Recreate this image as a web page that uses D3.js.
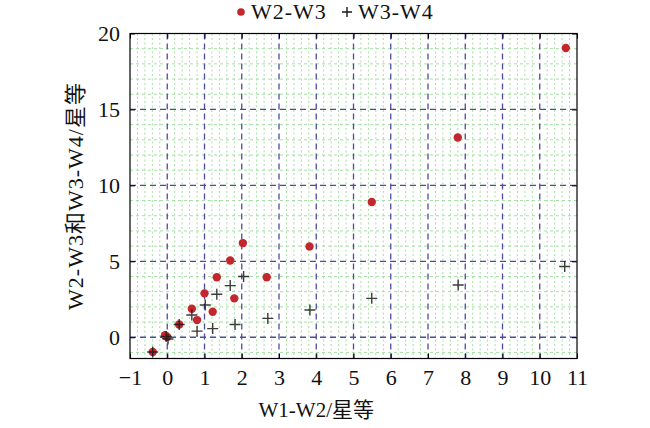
<!DOCTYPE html>
<html>
<head>
<meta charset="utf-8">
<script src="https://cdn.jsdelivr.net/npm/d3@7"></script>
<style>
	body { margin: 0; background: #fff; }
	svg { display: block; }
	.frame { fill: none; stroke: #000; stroke-width: 1.2px; }
	.minor { stroke: #a6dea6; stroke-width: 1px; fill: none; }
	.major { stroke: #4b4d9c; stroke-width: 1.3px; stroke-dasharray: 6 4; fill: none; }
	.dot { fill: #c4262e; }
	.cross { stroke: #1a1a1a; stroke-width: 1.4px; }
</style>
</head>
<body>
<svg id="chart" width="650" height="428"></svg>
<script>
// W2-W3 vs W1-W2
const w2w3X = [-0.39, -0.06, 0.0, 0.32, 0.80, 0.66, 1.22, 1.00, 1.80, 1.33, 2.67, 1.69, 2.03, 3.82, 5.49, 7.80, 10.70];
const w2w3Y = [-0.97, 0.13, 0.02, 0.84, 1.13, 1.88, 1.68, 2.89, 2.56, 3.95, 3.95, 5.05, 6.20, 5.98, 8.90, 13.15, 19.05];
// W3-W4 vs W1-W2
const w3w4X = [-0.39, -0.03, 0.02, 0.32, 0.66, 0.80, 1.02, 1.22, 1.33, 1.69, 1.82, 2.05, 2.70, 3.83, 5.49, 7.81, 10.67];
const w3w4Y = [-0.97, 0.05, -0.12, 0.84, 1.46, 0.40, 2.12, 0.57, 2.83, 3.40, 0.84, 4.00, 1.24, 1.79, 2.56, 3.44, 4.66];

const xTicks = [-1, 0, 1, 2, 3, 4, 5, 6, 7, 8, 9, 10, 11];
const yTicks = [0, 5, 10, 15, 20];
const xDomain = [-1, 11];
const yDomain = [-1.4, 20];

const serif = '"Liberation Serif", serif';
const titleFont = '"Liberation Serif", "Noto Sans CJK SC", serif';

const margin = { top: 33.5, right: 73, bottom: 69.5, left: 130 };
const width = 650 - margin.left - margin.right;
const height = 428 - margin.top - margin.bottom;

const svg = d3.select('#chart');
const g = svg.append('g').attr('transform', `translate(${margin.left},${margin.top})`);

const x = d3.scaleLinear().domain(xDomain).range([0, width]);
const y = d3.scaleLinear().domain(yDomain).range([height, 0]);

// minor grid (green, dotted)
const minorX = d3.range(-1, 11.001, 0.2).filter(v => Math.abs(v - Math.round(v)) > 0.01);
const minorY = d3.range(-1, 20.001, 1).filter(v => v % 5 !== 0);

g.selectAll('.minor-x')
	.data(minorX)
	.enter()
	.append('line')
	.attr('class', 'minor')
	.attr('x1', d => x(d))
	.attr('x2', d => x(d))
	.attr('y1', 0)
	.attr('y2', height)
	.attr('stroke-dasharray', '2 2.5');

g.selectAll('.minor-y')
	.data(minorY)
	.enter()
	.append('line')
	.attr('class', 'minor')
	.attr('x1', 0)
	.attr('x2', width)
	.attr('y1', d => y(d))
	.attr('y2', d => y(d))
	.attr('stroke-dasharray', '3 3');

// major grid (blue dashed)
g.selectAll('.major-x')
	.data(xTicks.slice(1, -1))
	.enter()
	.append('line')
	.attr('class', 'major')
	.attr('x1', d => x(d))
	.attr('x2', d => x(d))
	.attr('y1', 0)
	.attr('y2', height);

g.selectAll('.major-y')
	.data(yTicks.slice(0, -1))
	.enter()
	.append('line')
	.attr('class', 'major')
	.attr('x1', 0)
	.attr('x2', width)
	.attr('y1', d => y(d))
	.attr('y2', d => y(d));

// axes, ticks pointing inwards
const xAxis = g.append('g')
	.attr('transform', `translate(0,${height})`)
	.call(d3.axisBottom(x).tickValues(xTicks).tickSize(-5).tickPadding(11).tickFormat(d => d < 0 ? '\u2212' + Math.abs(d) : d));
const yAxis = g.append('g')
	.call(d3.axisLeft(y).tickValues(yTicks).tickSize(-5).tickPadding(10));
const topAxis = g.append('g')
	.call(d3.axisTop(x).tickValues(xTicks).tickSize(-5).tickFormat(''));
const rightAxis = g.append('g')
	.attr('transform', `translate(${width},0)`)
	.call(d3.axisRight(y).tickValues(yTicks).tickSize(-5).tickFormat(''));

[xAxis, yAxis, topAxis, rightAxis].forEach(a => {
	a.attr('font-family', serif).attr('font-size', 22);
	a.select('.domain').remove();
	a.selectAll('.tick line').attr('stroke', '#000');
	a.selectAll('text').attr('fill', '#111');
});

g.append('rect')
	.attr('class', 'frame')
	.attr('width', width)
	.attr('height', height);

// W3-W4 crosses
const crossSize = 5.5;
const w3w4 = w3w4X.map((v, i) => ({ x: v, y: w3w4Y[i] }));
const crosses = g.selectAll('.cross')
	.data(w3w4)
	.enter()
	.append('path')
	.attr('class', 'cross')
	.attr('d', d => {
		const cx = x(d.x);
		const cy = y(d.y);
		return `M${cx - crossSize},${cy}H${cx + crossSize}M${cx},${cy - crossSize}V${cy + crossSize}`;
	});

// W2-W3 dots
const w2w3 = w2w3X.map((v, i) => ({ x: v, y: w2w3Y[i] }));
g.selectAll('.dot')
	.data(w2w3)
	.enter()
	.append('circle')
	.attr('class', 'dot')
	.attr('r', 4.2)
	.attr('cx', d => x(d.x))
	.attr('cy', d => y(d.y));

crosses.raise().attr('opacity', 0.85);

// legend
const legend = svg.append('g')
	.attr('transform', 'translate(241,12)')
	.attr('font-family', serif)
	.attr('font-size', 22)
	.attr('fill', '#111');
legend.append('circle').attr('class', 'dot').attr('r', 3.8).attr('cx', 0).attr('cy', 0);
legend.append('text').attr('x', 10).attr('y', 7).attr('letter-spacing', 1).text('W2-W3');
legend.append('path').attr('class', 'cross').attr('d', 'M101,0H111M106,-5V5');
legend.append('text').attr('x', 117).attr('y', 7).attr('letter-spacing', 1).text('W3-W4');

// axis titles
svg.append('text')
	.attr('font-family', titleFont)
	.attr('font-size', 21)
	.attr('fill', '#111')
	.attr('x', margin.left + x(4))
	.attr('y', 417)
	.attr('text-anchor', 'middle')
	.text('W1-W2/星等');

svg.append('text')
	.attr('font-family', titleFont)
	.attr('font-size', 22)
	.attr('letter-spacing', 1)
	.attr('fill', '#111')
	.attr('transform', `translate(83,${margin.top + height / 2}) rotate(-90)`)
	.attr('text-anchor', 'middle')
	.text('W2-W3和W3-W4/星等');
</script>
</body>
</html>
